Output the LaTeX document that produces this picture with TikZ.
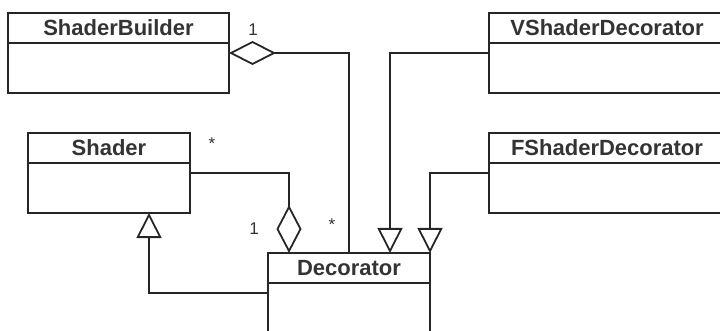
\documentclass[tikz,border=0pt]{standalone}
\usepackage{fontspec}
\setmainfont{Liberation Sans}
\usetikzlibrary{arrows.meta, positioning, calc}

\begin{document}
\begin{tikzpicture}[x=1pt, y=-1pt,
  every node/.style={inner sep=0pt, outer sep=0pt},
  head/.style={rectangle, draw=black!85, line width=1.8pt, minimum height=30pt,
    font=\fontsize{22}{25}\selectfont\bfseries, text=black!80},
  body/.style={rectangle, draw=black!85, line width=1.8pt, minimum height=50pt},
  mult/.style={font=\fontsize{17}{19}\selectfont, text=black!80},
  link/.style={line width=1.8pt, draw=black!85},
  agg/.style={link, {Diamond[open, length=47pt, width=24pt]}-},
  aggend/.style={link, -{Diamond[open, length=48pt, width=25pt]}},
  gen/.style={link, -{Triangle[open, length=25pt, width=25pt]}}
]

% Frame
\useasboundingbox (0,0) rectangle (720,331);
\clip (0,0) rectangle (720,331);

% Classes
\node[head, minimum width=221pt] (sb) at (118.5,28) {ShaderBuilder};
\node[body, minimum width=221pt, below=0pt of sb] (sb-body) {};

\node[head, minimum width=162pt] (sh) at (109,148) {Shader};
\node[body, minimum width=162pt, below=0pt of sh] (sh-body) {};

\node[head, minimum width=162pt] (dec) at (349,268) {Decorator};
\node[body, minimum width=162pt, minimum height=80pt, below=0pt of dec] (dec-body) {};

\node[head, minimum width=236pt] (vs) at (607,28) {VShaderDecorator};
\node[body, minimum width=236pt, below=0pt of vs] (vs-body) {};

\node[head, minimum width=236pt] (fs) at (607,148) {FShaderDecorator};
\node[body, minimum width=236pt, below=0pt of fs] (fs-body) {};

% Aggregations
\draw[agg] ($(sb-body.north east)+(0,10)$) -| (dec.north);
\draw[aggend] ($(sh-body.north east)+(0,10)$) -| ($(dec.north west)+(21,0)$);

% Generalizations
\draw[gen] ($(vs-body.north west)+(0,10)$) -| ($(dec.north west)+(122,0)$);
\draw[gen] ($(fs-body.north west)+(0,10)$) -| (dec.north east);
\draw[gen] ($(dec-body.north west)+(0,10)$) -| ($(sh-body.south west)+(121,0)$);

% Multiplicities
\node[mult] (sb-one) at (253,30) {1};
\node[mult] (sh-many) at (212,144) {*};
\node[mult] (sh-one) at (254,229) {1};
\node[mult] (dec-many) at (332,225) {*};

\end{tikzpicture}
\end{document}
